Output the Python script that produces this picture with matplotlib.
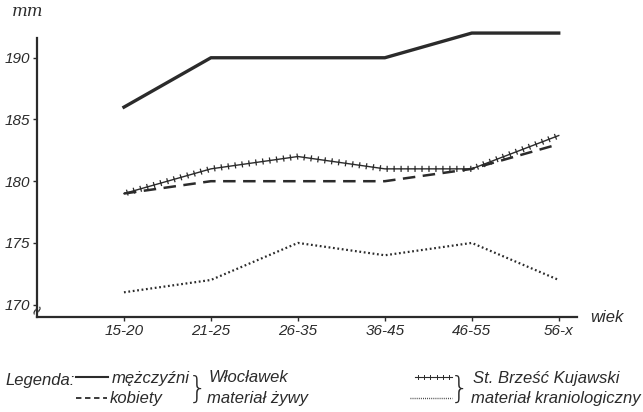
import matplotlib
matplotlib.use("Agg")
import matplotlib.pyplot as plt
import matplotlib.patheffects as pe

# sredni wymiar glowy wg grup wieku
wiek = ["15-20", "21-25", "26-35", "36-45", "46-55", "56-x"]
mezczyzni_wloclawek = [186, 190, 190, 190, 192, 192]
brzesc_kujawski = [179, 181, 182, 181, 181, 183.7]
kobiety = [179, 180, 180, 180, 181, 183]
kraniologiczny = [171, 172, 175, 174, 175, 172]

ink = "#2b2b2b"
plt.rcParams['font.family'] = ['Liberation Sans', 'DejaVu Sans']
plt.rcParams['font.style'] = 'italic'


def krzyzyki(spacing, length, lw):
    # linia z poprzecznymi kreskami po obu stronach
    return [pe.Stroke(),
            pe.TickedStroke(spacing=spacing, angle=90, length=length, linewidth=lw),
            pe.TickedStroke(spacing=spacing, angle=-90, length=length, linewidth=lw)]


fig = plt.figure(figsize=(6.43, 4.12), dpi=100)
ax = fig.add_axes([37 / 643, 95 / 412, 540 / 643, 279 / 412])

x = range(len(wiek))
ax.plot(x, mezczyzni_wloclawek, color=ink, lw=2.4, clip_on=False)
ax.plot(x, brzesc_kujawski, color=ink, lw=1.0, clip_on=False,
        path_effects=krzyzyki(5, 0.35, 0.9))
ax.plot(x, kobiety, color=ink, lw=1.8, ls=(0, (5, 3)), clip_on=False)
ax.plot(x, kraniologiczny, color=ink, lw=1.6, ls=(0, (0.8, 1.2)), clip_on=False)

ax.set_xlim(-1.0, 5.21)
ax.set_ylim(169, 191.6)
ax.set_xticks(list(x))
ax.set_xticklabels(wiek, fontsize=11, color=ink)
ax.set_yticks([170, 175, 180, 185, 190])
ax.set_yticklabels(["170", "175", "180", "185", "190"], fontsize=11, color=ink)
ax.tick_params(axis='both', length=3, width=1, color=ink, pad=2)
for side in ['top', 'right']:
    ax.spines[side].set_visible(False)
for side in ['left', 'bottom']:
    ax.spines[side].set_color(ink)
    ax.spines[side].set_linewidth(1.6)

# znak przerwania osi
ax.text(-1.0, 169.6, "≈", rotation=65, fontsize=11, ha='center', va='center', color=ink,
        family='DejaVu Sans', style='normal')

fig.text(12 / 643, 1 - 12 / 412, "mm", fontsize=12, color=ink, va='center', family='DejaVu Serif')
fig.text(590 / 643, 1 - 318 / 412, "wiek", fontsize=12, color=ink, va='center')

# legenda
fs = 12
fig.text(5 / 643, 1 - 380 / 412, "Legenda:", fontsize=fs, color=ink, va='center')
y1, y2 = 1 - 377 / 412, 1 - 398 / 412
fig.add_artist(plt.Line2D([76 / 643, 108 / 643], [y1, y1], color=ink, lw=1.5))
fig.add_artist(plt.Line2D([76 / 643, 107 / 643], [y2, y2], color=ink, lw=1.3, ls=(0, (3, 2))))
fig.add_artist(plt.Line2D([415 / 643, 452 / 643], [y1, y1], color=ink, lw=0.8,
                          path_effects=krzyzyki(4, 0.4, 0.7)))
fig.add_artist(plt.Line2D([410 / 643, 452 / 643], [y2, y2], color=ink, lw=1.0, ls=(0, (0.6, 0.9))))
fig.text(112 / 643, 1 - 378 / 412, "mężczyźni", fontsize=fs, color=ink, va='center')
fig.text(110 / 643, 1 - 399 / 412, "kobiety", fontsize=fs, color=ink, va='center')
fig.text(198 / 643, 1 - 389 / 412, "}", fontsize=22, color=ink, ha='center', va='center',
         family='DejaVu Sans', style='normal', weight='light')
fig.text(209 / 643, 1 - 378 / 412, "Włocławek", fontsize=fs, color=ink, va='center')
fig.text(207 / 643, 1 - 399 / 412, "materiał żywy", fontsize=fs, color=ink, va='center')
fig.text(460 / 643, 1 - 389 / 412, "}", fontsize=22, color=ink, ha='center', va='center',
         family='DejaVu Sans', style='normal', weight='light')
fig.text(473 / 643, 1 - 378 / 412, "St. Brześć Kujawski", fontsize=fs, color=ink, va='center')
fig.text(471 / 643, 1 - 399 / 412, "materiał kraniologiczny", fontsize=fs, color=ink, va='center')

fig.savefig("out.png", dpi=100)
